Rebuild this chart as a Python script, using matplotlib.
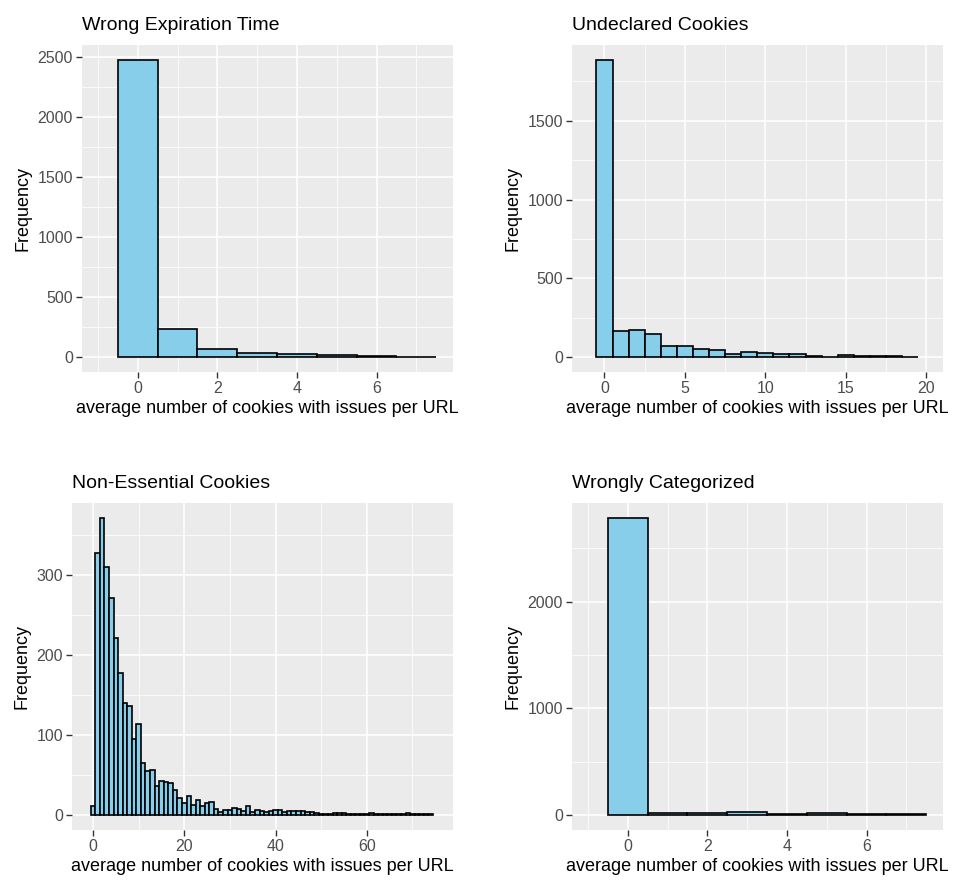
import numpy as np
import matplotlib.pyplot as plt
from matplotlib.ticker import MultipleLocator

plt.rcParams['font.family'] = ['Liberation Sans', 'DejaVu Sans']

# bin centres (width 1) and counts
exp_bins = [0, 1, 2, 3, 4, 5, 6, 7]
exp_counts = [2480, 238, 69, 33, 22, 15, 10, 3]

undecl_bins = list(range(20))
undecl_counts = [1886, 167, 171, 146, 72, 73, 53, 44, 21, 34,
                 25, 17, 19, 8, 3, 12, 6, 8, 10, 3]

noness_bins = list(range(75))
noness_counts = [11, 328, 372, 311, 272, 222, 178, 140, 136, 95,
                 114, 65, 55, 57, 37, 43, 41, 40, 32, 21,
                 15, 24, 13, 19, 11, 15, 16, 8, 4, 7,
                 6, 9, 8, 5, 11, 4, 7, 5, 4, 5,
                 6, 6, 4, 5, 5, 5, 5, 4, 4, 3,
                 2, 2, 2, 3, 3, 3, 2, 2, 2, 2,
                 2, 3, 2, 1, 1, 2, 2, 1, 1, 3,
                 1, 1, 1, 2, 2]

wrong_bins = [0, 1, 2, 3, 4, 5, 6, 7]
wrong_counts = [2784, 20, 22, 33, 8, 18, 8, 6]

titles = ["Wrong Expiration Time", "Undeclared Cookies",
          "Non-Essential Cookies", "Wrongly Categorized"]
xlab = "average number of cookies with issues per URL"

fig = plt.figure(figsize=(9.58, 8.8), dpi=100)
fig.patch.set_facecolor('white')

H = 880.0
W = 958.0
# panel boxes in pixels (left, top, right, bottom)
boxes = [(82, 45, 453, 372), (572, 45, 943, 372),
         (72, 503, 453, 830), (572, 503, 943, 830)]
xlims = [(-1.4, 7.92), (-2.02, 21.05), (-4.6, 78.9), (-1.4, 7.92)]
data = [(exp_bins, exp_counts, 2, 1, 500, 250),
        (undecl_bins, undecl_counts, 5, 2.5, 500, 250),
        (noness_bins, noness_counts, 20, 10, 100, 50),
        (wrong_bins, wrong_counts, 2, 1, 1000, 500)]

for (l, t, r, b), xl, (bins, counts, xmaj, xmin_, ymaj, ymin_), title in zip(boxes, xlims, data, titles):
    ax = fig.add_axes([l / W, 1 - b / H, (r - l) / W, (b - t) / H])
    ax.set_facecolor('#EBEBEB')
    ax.bar(bins, counts, width=1, color='#87CEEB', edgecolor='black',
           linewidth=1.2, zorder=3)
    ax.set_xlim(*xl)
    top = max(counts)
    ax.set_ylim(-top * 0.05, top * 1.05)
    ax.xaxis.set_major_locator(MultipleLocator(xmaj))
    ax.xaxis.set_minor_locator(MultipleLocator(xmin_))
    ax.yaxis.set_major_locator(MultipleLocator(ymaj))
    ax.yaxis.set_minor_locator(MultipleLocator(ymin_))
    ax.grid(True, which='major', color='white', linewidth=1.1, zorder=0)
    ax.grid(True, which='minor', color='white', linewidth=0.55, zorder=0)
    ax.set_axisbelow(True)
    for s in ax.spines.values():
        s.set_visible(False)
    ax.tick_params(which='major', length=4, width=1, color='#333333',
                   labelcolor='#4D4D4D', labelsize=11.5, pad=2.5)
    ax.tick_params(which='minor', length=0)
    ax.set_title(title, loc='left', fontsize=14, pad=11)
    ax.set_xlabel(xlab, fontsize=13, labelpad=3)
    ax.set_ylabel("Frequency", fontsize=13, labelpad=4)

fig.savefig('out.png', dpi=100)
